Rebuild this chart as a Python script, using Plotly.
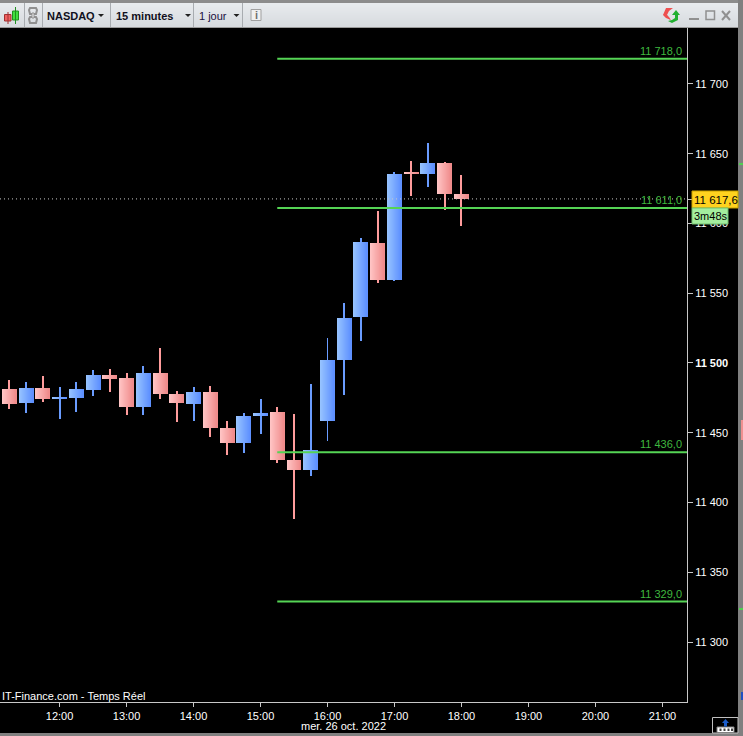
import plotly.graph_objects as go

W, H = 743, 736

times = ["11:15","11:30","11:45","12:00","12:15","12:30","12:45","13:00","13:15","13:30",
         "13:45","14:00","14:15","14:30","14:45","15:00","15:15","15:30","15:45","16:00",
         "16:15","16:30","16:45","17:00","17:15","17:30","17:45","18:00"]
opens = [11481.4,11471.3,11482.1,11474.3,11474.9,11480.6,11491.4,11489.2,11468.5,11492.8,
         11477.8,11470.6,11479.2,11453.4,11442.7,11462.0,11464.9,11430.5,11423.3,11458.4,
         11502.2,11533.0,11586.0,11559.5,11636.2,11635.5,11643.4,11621.1]
highs = [11487.8,11486.4,11490.7,11482.8,11486.4,11495.0,11495.7,11492.8,11497.8,11510.8,
         11479.9,11482.8,11483.5,11458.4,11464.2,11474.2,11468.5,11463.4,11484.9,11517.9,
         11543.0,11589.6,11609.0,11636.9,11644.8,11657.7,11644.1,11634.8]
lows = [11467.0,11464.2,11472.0,11459.9,11464.9,11476.3,11479.2,11462.7,11462.7,11474.2,
        11457.7,11458.4,11447.0,11434.1,11435.5,11449.1,11428.3,11388.2,11419.0,11444.1,
        11477.1,11515.8,11557.3,11558.8,11619.7,11626.2,11609.7,11598.2]
closes = [11470.6,11482.1,11474.2,11475.0,11481.4,11491.4,11488.5,11468.5,11492.8,11477.8,
          11471.3,11479.2,11453.4,11442.7,11462.0,11464.2,11430.5,11423.3,11437.6,11502.2,
          11532.3,11586.7,11559.5,11635.5,11635.5,11643.4,11621.1,11617.6]
levels = [11718.0, 11611.0, 11436.0, 11329.0]
level_labels = ["11 718,0", "11 611,0", "11 436,0", "11 329,0"]
last_price = 11617.6
last_label = "11 617,6"
countdown = "3m48s"
y_ticks = [11300, 11350, 11400, 11450, 11500, 11550, 11600, 11650, 11700]
y_labels = ["11 300", "11 350", "11 400", "11 450", "<b>11 500</b>", "11 550", "11 600", "11 650", "11 700"]

DAY = "2022-10-26 "
FONT = "Liberation Sans"
xs = [DAY + t for t in times]
X0, X1 = DAY + "11:06:40", DAY + "21:22:00"
LEVEL_START = DAY + "15:15"
PX_MS = 3600000 / 67  # one pixel in axis units


def X(p):
    return p / W


def Y(p):
    return 1 - p / H


def mix(a, b, t):
    return "rgb(%d,%d,%d)" % tuple(round(a[i] + (b[i] - a[i]) * t) for i in range(3))


PINK = ((255, 196, 196), (240, 140, 140))
BLUE = ((150, 195, 255), (95, 145, 255))
up = [c >= o for o, c in zip(opens, closes)]
base = [min(o, c) for o, c in zip(opens, closes)]
span = [abs(o - c) for o, c in zip(opens, closes)]

fig = go.Figure()
# wicks
fig.add_bar(x=xs, base=lows, y=[h - l for h, l in zip(highs, lows)], width=PX_MS,
            marker=dict(color=["#6a9cff" if u else "#ff9c9c" for u in up], line_width=0),
            hoverinfo="skip", showlegend=False)
# bodies, as thin vertical slices that make the horizontal gradient
N = 14
for k in range(N):
    t = k / (N - 1)
    fig.add_bar(x=xs, base=base, y=span, width=PX_MS, offset=(k - N / 2) * PX_MS,
                marker=dict(color=[mix(*BLUE, t) if u else mix(*PINK, t) for u in up], line_width=0),
                hoverinfo="skip", showlegend=False)
for lv in levels:
    fig.add_scatter(x=[LEVEL_START, X1], y=[lv, lv], mode="lines",
                    line=dict(color="#55d455", width=2), hoverinfo="skip", showlegend=False)
fig.add_scatter(x=[X0, X1], y=[last_price, last_price], mode="lines",
                line=dict(color="#c8c8c8", width=1, dash="1px,3px"), hoverinfo="skip", showlegend=False)

shapes = []


def rect(x0, y0, x1, y1, fill, line=None, lw=1):
    shapes.append(dict(type="rect", xref="paper", yref="paper", x0=X(x0), x1=X(x1), y0=Y(y0), y1=Y(y1),
                       fillcolor=fill, line=dict(color=line, width=lw) if line else dict(width=0),
                       layer="above"))


def poly(pts, fill=None, line=None, lw=1, close=True):
    path = "M" + "L".join("%.5f,%.5f" % (X(a), Y(b)) for a, b in pts) + ("Z" if close else "")
    shapes.append(dict(type="path", xref="paper", yref="paper", path=path,
                       fillcolor=fill if fill else "rgba(0,0,0,0)",
                       line=dict(color=line, width=lw) if line else dict(width=0), layer="above"))


# toolbar
for i in range(3, 27):
    t = (i - 3) / 24
    rect(0, i, 739, i + 1, mix((232, 235, 238), (214, 218, 222), t))
rect(0, 0, 743, 3, "#8c8c8c")
rect(0, 27, 739, 28, "#9a9a9a")
for sx in (24, 42, 110, 193, 242):
    rect(sx, 3, sx + 1, 27, "#a8acb0")
# right and bottom strips
rect(738, 0, 743, 736, "#808080")
rect(0, 733, 743, 736, "#808080")
# neighbouring window marks at the right edge
rect(739, 163, 743, 165, "#50d050")
rect(739, 608, 743, 610, "#50d050")
rect(741, 420, 743, 440, "#f09090")
rect(741, 692, 743, 700, "#2050c0")
# candle icon
rect(4.5, 14.5, 11, 21, "#f06060", "#a03030")
rect(12.5, 11, 18.5, 20, "#40e040", "#209020")
rect(7.5, 12, 8.5, 24, "#a03030")
rect(15, 7, 16, 24, "#209020")
# link icon
poly([(30, 8), (36, 8), (37, 10), (36, 14), (30, 14), (29, 10)], line="#909090", lw=2)
poly([(30, 17), (36, 17), (37, 19), (36, 23), (30, 23), (29, 19)], line="#909090", lw=2)
rect(32, 13, 34, 18, "#f4f4f4", "#909090")
# dropdown triangles
for tx in (98, 185, 233.5):
    poly([(tx, 14), (tx + 6, 14), (tx + 3, 17)], fill="#202020")
# info box
rect(251, 9.5, 261, 20.5, "#f0f0f0", "#a0a0a0")
# refresh icon
poly([(666, 8), (673, 8), (669, 11), (667, 15), (669, 17), (671, 20), (666, 18), (663, 15)], fill="#ee5050")
poly([(663, 14), (667, 15), (670, 20)], fill="#ee5050")
poly([(676, 10), (680, 15), (678, 15), (678, 20), (672, 23), (668, 21), (672, 20), (675, 18), (675, 15), (672, 15)], fill="#20b030")
# window buttons
rect(689, 18, 699, 20, "#909090")
rect(706, 11, 714.5, 19.5, "rgba(0,0,0,0)", "#909090", 1.5)
poly([(722, 11), (730, 20)], line="#909090", lw=2, close=False)
poly([(730, 11), (722, 20)], line="#909090", lw=2, close=False)
# price box and countdown
rect(688, 199, 692, 200, "#c8c8c8")
rect(692, 191, 738, 208, "#ffd21f", "#c8a000")
rect(692, 208, 728, 224, "#a4ee9e", "#70c070")
# bottom-right button
rect(712.5, 717.5, 738, 733, "#000000", "#c0c0c0")
rect(717, 727, 734, 732.5, "#ffffff", "#808080")
for bx in (719.5, 723.5, 727.5, 731):
    rect(bx, 728.5, bx + 2, 731, "#404040")
poly([(725.5, 719), (729, 723), (727, 723), (727, 726.5), (724, 726.5), (724, 723), (722, 723)], fill="#1a5cc8")

ann = []


def text(x, y, s, size=11, color="#ffffff", anchor="left"):
    ann.append(dict(x=X(x), y=Y(y), xref="paper", yref="paper", text=s, showarrow=False, xanchor=anchor,
                    yanchor="middle", font=dict(family=FONT, size=size, color=color),
                    borderpad=0, borderwidth=0))


text(47, 15.5, "<b>NASDAQ</b>", 11, "#101020")
text(116, 15.5, "<b>15 minutes</b>", 11, "#101020")
text(199, 16, "1 jour", 11, "#201040")
text(256, 15, "<b>i</b>", 11, "#707070", "center")
text(682, 51, level_labels[0], 11, "#3fb83f", "right")
text(682, 200, level_labels[1], 11, "#3fb83f", "right")
text(682, 444, level_labels[2], 11, "#3fb83f", "right")
text(682, 594, level_labels[3], 11, "#3fb83f", "right")
text(2, 696, "IT-Finance.com - Temps Réel", 11, "#ffffff")
text(343, 726, "mer. 26 oct. 2022", 11, "#ffffff", "center")
text(694, 200, last_label, 11.5, "#000000")
text(694, 216.5, countdown, 11, "#000000")

fig.update_layout(
    width=W, height=H, autosize=False, margin=dict(l=0, r=0, t=0, b=0, pad=0),
    paper_bgcolor="#000000", plot_bgcolor="#000000", barmode="overlay", bargap=0,
    showlegend=False, font=dict(family=FONT, size=11, color="#ffffff"),
    shapes=shapes, annotations=ann,
    xaxis=dict(type="date", domain=[0, 687 / W], range=[X0, X1], tickformat="%H:%M",
               dtick=3600000, tick0=DAY + "12:00", ticks="outside", ticklen=4, tickcolor="#c8c8c8",
               showline=True, linecolor="#c8c8c8", linewidth=1, showgrid=False, zeroline=False,
               tickfont=dict(family=FONT, size=11, color="#ffffff"), fixedrange=True, anchor="y"),
    yaxis=dict(domain=[(H - 702) / H, (H - 28) / H], range=[11257.0, 11740.1], side="right",
               tickmode="array", tickvals=y_ticks, ticktext=y_labels, ticks="outside", ticklen=5,
               tickcolor="#c8c8c8", showline=True, linecolor="#c8c8c8", linewidth=1, showgrid=False,
               zeroline=False, tickfont=dict(family=FONT, size=11, color="#ffffff"),
               fixedrange=True, anchor="x"),
)
fig.write_html("out.html", config=dict(displayModeBar=False),
               post_script="document.body.style.margin='0';document.body.style.overflow='hidden';")
